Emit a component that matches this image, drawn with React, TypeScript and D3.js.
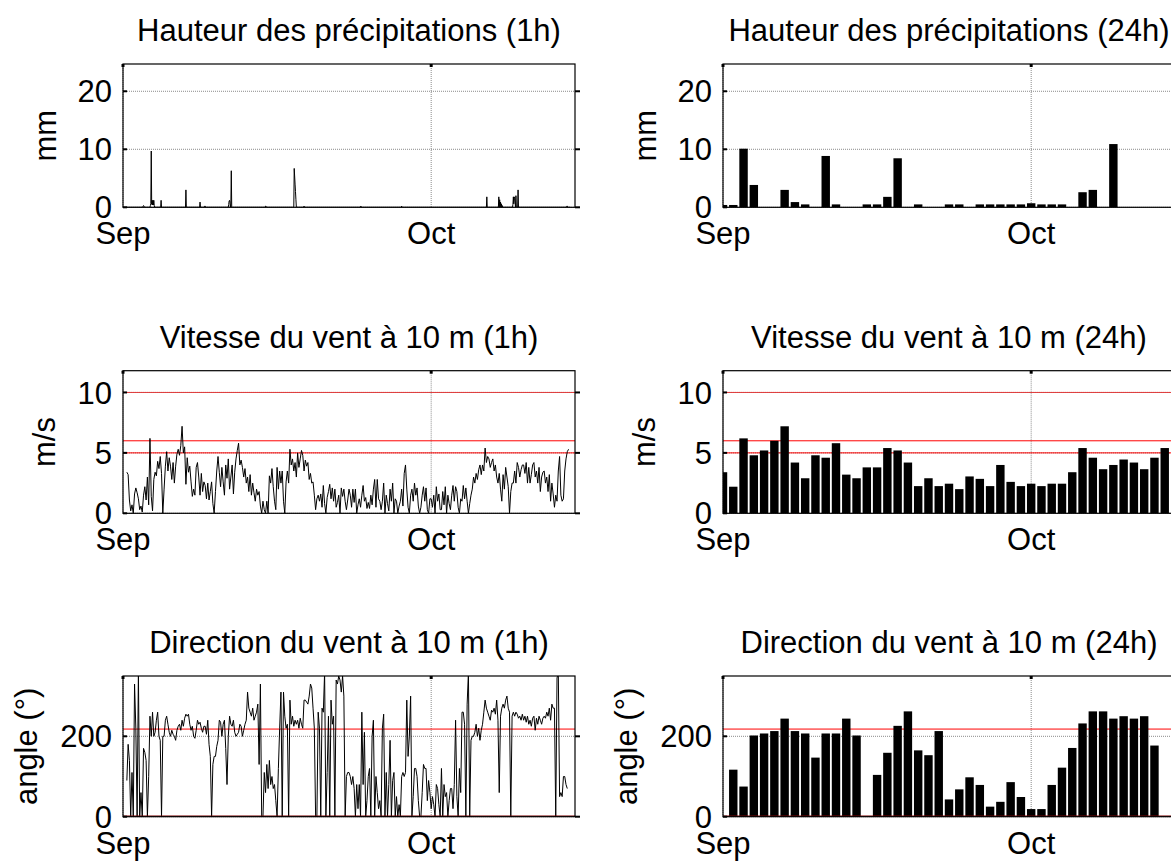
import React from "react";
import * as d3 from "d3";

const FONT = "'Liberation Sans', Arial, Helvetica, sans-serif";
const FONT_SIZE = 31;

// Time frame shown on every panel: 1 Sep – 15 Oct
const START = Date.UTC(2014, 8, 1);
const END = Date.UTC(2014, 9, 15);
const HOUR = 3600000;
const DAY = 24 * HOUR;

const monthTicks = [Date.UTC(2014, 8, 1), Date.UTC(2014, 9, 1)];
const monthLabels = ["Sep", "Oct"];

// Hourly rainfall: hours counted from 1 Sep 00:00 that had rain, and amounts (mm)
const rainHours = [
  47, 48, 49, 64, 65, 66, 67, 68, 69, 70, 71, 72, 73, 89, 147, 180, 191, 192,
  247, 248, 249, 250, 252, 253, 333, 334, 400, 401, 402, 403, 404, 423, 555, 556,
  651, 850, 878, 880, 882, 884, 886, 911, 912, 913, 914, 915, 916, 918, 923,
  1037, 1038,
];
const rainMm = [
  0.2, 0.3, 0.2, 0.3, 0.6, 9.7, 0.5, 1.2, 0.4, 1.2, 0.4, 1.2, 0.3, 1.2, 3.0, 0.9, 0.2, 0.2,
  0.5, 1.1, 1.2, 0.8, 0.6, 6.3, 0.2, 0.2, 6.7, 5.4, 4.0, 2.7, 1.3, 0.2, 0.15, 0.2,
  0.2, 1.8, 1.8, 1.3, 0.9, 0.6, 0.3, 0.5, 1.8, 0.6, 1.8, 1.5, 0.9, 2.0, 3.0,
  0.2, 0.2,
];
const rainFirstHour = 8;
const rainLastHour = 1045;

// Daily rainfall (mm), one value per day from 1 Sep
const rainDaily = [
  0.4, 0.4, 10.1, 3.85, 0, 0, 3.0, 0.9, 0.5, 0, 8.85, 0.5, 0, 0, 0.5, 0.5, 1.8, 8.45, 0, 0.5,
  0, 0, 0.5, 0.5, 0, 0.5, 0.5, 0.5, 0.5, 0.5, 0.7, 0.5, 0.5, 0.5, 0, 2.6, 3.0, 0, 10.9, 0,
  0, 0, 0, 0,
];

// 3-hourly wind speed at 10 m (m/s): 00h, 03h ... 21h for each day from 1 Sep
const windSpeed3h: (number | null)[] = [
  null, null, null, 3.4, 3.2, 1.1, 0.2, 0.7,
  0, 1.6, 2.1, 1.7, 1.2, 0.3, 0.6, 0.1,
  1.5, 2.2, 1.1, 3.0, 0.7, 6.2, 1.4, 0.2,
  2.8, 3.4, 3.1, 4.3, 3.7, 4.7, 3.3, 0,
  2.0, 3.9, 5.1, 3.5, 4.6, 3.9, 2.8, 4.2,
  2.5, 3.9, 4.9, 5.3, 4.8, 5.6, 7.2, 5.0,
  5.5, 2.4, 4.6, 3.4, 3.9, 2.6, 1.4, 2.0,
  1.5, 3.8, 4.2, 3.0, 1.5, 3.3, 1.8, 2.6,
  2.3, 1.2, 2.5, 1.1, 1.8, 2.6, 0.8, 0,
  1.8, 3.5, 4.7, 3.4, 2.2, 3.8, 2.6, 1.5,
  4.0, 2.9, 4.5, 2.0, 3.0, 4.0, 1.6, 3.4,
  4.5, 5.2, 5.8, 4.0, 4.4, 3.8, 3.0, 3.7,
  2.5, 3.0, 1.8, 3.2, 1.5, 2.5, 1.7, 1.0,
  2.0, 1.5, 1.8, 0.6, 0, 1.0, 0.3, 0,
  1.0, 0, 3.1, 2.5, 3.7, 2.2, 1.0, 0.3,
  3.8, 2.0, 3.5, 2.5, 3.5, 1.0, 0, 2.6,
  3.5, 2.5, 5.3, 4.0, 4.5, 3.5, 4.2, 3.0,
  5.0, 3.8, 4.5, 5.2, 4.8, 3.5, 4.4, 3.9,
  4.2, 2.8, 3.3, 2.5, 2.6, 1.5, 0.3, 1.2,
  1.5, 1.0, 1.6, 0.5, 2.3, 0.8, 0, 1.3,
  1.8, 2.4, 1.2, 2.1, 1.0, 2.0, 0.5, 0.9,
  1.5, 0, 2.1, 1.4, 2.0, 1.0, 0.3, 1.1,
  2.0, 1.5, 0.5, 2.0, 0.9, 2.0, 0, 0.7,
  1.2, 0.5, 1.5, 2.3, 1.0, 1.3, 0.4, 0.9,
  0.4, 1.5, 0.7, 2.0, 2.8, 0.5, 2.8, 1.2,
  1.0, 0.3, 1.0, 2.5, 0, 1.5, 0.8, 0.2,
  2.0, 1.0, 2.5, 0, 1.2, 1.0, 0, 0.6,
  1.0, 2.0, 0.6, 3.3, 4.0, 2.0, 0.5, 0,
  1.5, 2.0, 1.0, 2.5, 1.5, 2.1, 0.6, 0,
  0.5, 1.5, 2.2, 1.0, 2.1, 0.3, 0, 1.2,
  1.2, 0.5, 1.5, 0, 2.2, 1.0, 1.6, 0.3,
  0.3, 1.8, 0.7, 2.2, 0, 1.5, 0.8, 0.3,
  1.5, 2.3, 1.0, 2.2, 1.8, 0.5, 0, 1.2,
  1.0, 2.3, 1.2, 2.1, 1.0, 0, 0.8, 1.5,
  2.0, 3.0, 2.5, 3.3, 2.8, 3.6, 4.0, 3.2,
  4.0, 3.5, 5.4, 4.2, 4.7, 4.5, 3.8, 4.2,
  4.5, 3.5, 4.0, 3.0, 2.5, 3.3, 2.0, 1.0,
  3.2, 2.0, 3.8, 3.0, 2.2, 0, 1.8, 2.5,
  2.5, 3.5, 2.5, 4.2, 3.8, 3.0, 3.6, 4.0,
  4.0, 3.3, 4.2, 2.5, 3.8, 2.5, 3.2, 4.0,
  4.2, 3.0, 3.5, 2.5, 3.8, 1.8, 3.0, 3.4,
  3.5, 2.5, 3.0, 1.8, 3.2, 1.0, 2.5, 1.6,
  0.5, 1.5, 1.0, 3.5, 4.7, 1.5, 1.0, 1.2,
  3.5, 4.5, 5.1, 5.3, null, null, null, null,
];

// Daily wind speed at 10 m (m/s)
const windSpeedDaily = [
  3.4, 2.2, 6.2, 4.8, 5.2, 6.0, 7.2, 4.2, 2.9, 4.8, 4.6, 5.8, 3.2, 2.9, 3.8, 3.8, 5.4, 5.2,
  4.2, 2.25, 2.9, 2.25, 2.45, 2.0, 3.05, 2.85, 2.25, 4.0, 2.6, 2.25, 2.45, 2.25, 2.45, 2.45,
  3.4, 5.4, 4.6, 3.65, 4.0, 4.45, 4.2, 3.65, 4.6, 5.4,
];

// 3-hourly wind direction at 10 m (degrees)
const windDir3h: (number | null)[] = [
  null, null, null, 90, 180, 140, 0, 110,
  0, 330, 220, 0, 359, 0, 60, 0,
  170, 160, 140, 0, 100, 250, 200, 260,
  200, 210, 240, 260, 200, 190, 0, 200,
  200, 240, 250, 230, 210, 200, 215, 205,
  200, 190, 215, 225, 230, 215, 240, 225,
  245, 255, 250, 255, 230, 215, 225, 200,
  195, 215, 240, 230, 235, 220, 210, 225,
  225, 205, 240, 180, 150, 0, 130, 150,
  150, 175, 190, 240, 235, 200, 230, 240,
  170, 80, 200, 250, 230, 225, 240, 210,
  200, 205, 210, 230, 225, 200, 215, 230,
  240, 310, 270, 260, 250, 270, 240, 250,
  260, 280, 130, 330, 0, 0, 110, 60,
  130, 70, 140, 80, 100, 70, 80, 40,
  0, 120, 220, 310, 0, 310, 250, 220,
  230, 0, 290, 230, 250, 225, 240, 230,
  240, 220, 245, 230, 220, 290, 290, 285,
  280, 300, 330, 320, 270, 220, 0, 0,
  260, 220, 0, 270, 260, 359, 0, 110,
  250, 0, 290, 230, 250, 0, 340, 330,
  350, 340, 310, 350, 300, 0, 100, 110,
  110, 100, 80, 100, 70, 0, 80, 20,
  80, 0, 260, 80, 210, 0, 40, 100,
  120, 0, 200, 240, 0, 100, 60, 20,
  40, 0, 220, 255, 0, 110, 0, 80,
  190, 0, 90, 110, 0, 50, 0, 30,
  0, 100, 110, 100, 110, 290, 150, 200,
  300, 0, 50, 120, 120, 100, 40, 0,
  0, 60, 130, 120, 120, 40, 90, 60,
  20, 50, 30, 0, 80, 70, 30, 0,
  120, 0, 80, 50, 60, 0, 40, 70,
  70, 20, 80, 240, 50, 0, 120, 60,
  260, 260, 230, 0, 280, 359, 0, 190,
  200, 200, 210, 230, 200, 220, 190, 215,
  230, 260, 290, 270, 260, 250, 240, 265,
  260, 270, 255, 290, 240, 60, 250, 270,
  280, 270, 290, 300, 270, 260, 0, 250,
  260, 250, 260, 255, 245, 250, 240, 255,
  240, 250, 235, 250, 230, 240, 225, 245,
  250, 215, 245, 230, 250, 240, 230, 245,
  250, 245, 260, 250, 270, 240, 280, 270,
  270, 0, 345, 359, 50, 60, 50, 100,
  100, 80, 70, null, null, null, null, null,
];

// Daily wind direction at 10 m (degrees)
const windDirDaily: (number | null)[] = [
  null, 117, 75, 202, 207, 213, 244, 213, 207, 147, 207, 207, 244, 202, null, 104, 159, 226,
  262, 165, 153, 213, 43, 68, 98, 79, 25, 37, 86, 49, 19, 19, 79, 122, 171, 232, 262, 262,
  244, 250, 244, 250, 177, null,
];

// Reference levels
const speedLevels = [5, 6, 10];
const directionLevel = 218;

type Pt = { t: number; v: number | null };

function hourlyRain(): Pt[] {
  const byHour = new Map<number, number>();
  rainHours.forEach((h, i) => byHour.set(h, rainMm[i]));
  const out: Pt[] = [];
  for (let h = rainFirstHour; h <= rainLastHour; h++) {
    out.push({ t: START + h * HOUR, v: byHour.get(h) ?? 0 });
  }
  return out;
}

function threeHourly(vals: (number | null)[]): Pt[] {
  return vals.map((v, i) => ({ t: START + i * 3 * HOUR, v }));
}

const PLOT_W = 452;

interface PanelSpec {
  id: string;
  left: number;
  top: number;
  bottom: number;
  yMax: number;
  ticks: number[];
  title: string;
  yLabel: string;
  yLabelX: number;
  line?: Pt[];
  bars?: (number | null)[];
  speedLines?: boolean;
  directionLines?: boolean;
}

function Panel({ s }: { s: PanelSpec }) {
  const x = d3.scaleUtc().domain([START, END]).range([s.left, s.left + PLOT_W]);
  const y = d3.scaleLinear().domain([0, s.yMax]).range([s.bottom, s.top]);
  const right = s.left + PLOT_W;
  const cx = s.left + PLOT_W / 2;
  const cy = (s.top + s.bottom) / 2;
  const line = d3
    .line<Pt>()
    .defined((d) => d.v != null)
    .x((d) => x(d.t))
    .y((d) => y(d.v as number));
  const bw = x(START + 0.82 * DAY) - x(START);

  return (
    <g>
      <defs>
        <clipPath id={s.id}>
          <rect x={s.left} y={s.top} width={PLOT_W} height={s.bottom - s.top} />
        </clipPath>
      </defs>
      <text x={cx} y={s.top - 23} textAnchor="middle">
        {s.title}
      </text>
      <text
        transform={`translate(${s.yLabelX},${cy}) rotate(-90)`}
        textAnchor="middle"
      >
        {s.yLabel}
      </text>

      {/* grid */}
      <g stroke="#8a8a8a" strokeWidth={1} strokeDasharray="1 1" fill="none">
        {s.ticks.map((t) => (
          <line key={`gy${t}`} x1={s.left} x2={right} y1={y(t)} y2={y(t)} />
        ))}
        {monthTicks.map((t) => (
          <line key={`gx${t}`} x1={x(t)} x2={x(t)} y1={s.top} y2={s.bottom} />
        ))}
      </g>

      <g clipPath={`url(#${s.id})`}>
        {s.speedLines &&
          speedLevels.map((v) => (
            <line
              key={`r${v}`}
              x1={s.left}
              x2={right}
              y1={y(v)}
              y2={y(v)}
              stroke={v === 10 ? "#e03a3a" : "#ff0000"}
              strokeWidth={1}
            />
          ))}
        {s.directionLines && (
          <line
            x1={s.left}
            x2={right}
            y1={y(directionLevel)}
            y2={y(directionLevel)}
            stroke="#ff0000"
            strokeWidth={1}
          />
        )}
        {s.bars &&
          s.bars.map((v, i) =>
            v == null || v <= 0 ? null : (
              <rect
                key={i}
                x={x(START + i * DAY) - bw / 2}
                y={y(v)}
                width={bw}
                height={y(0) - y(v)}
                fill="#000"
              />
            )
          )}
        {s.line && (
          <path d={line(s.line) ?? ""} fill="none" stroke="#000" strokeWidth={1} />
        )}
        {s.directionLines && (
          <line x1={s.left} x2={right} y1={y(0)} y2={y(0)} stroke="#7a0000" strokeWidth={2.2} />
        )}
      </g>

      {/* axes box */}
      <rect
        x={s.left}
        y={s.top}
        width={PLOT_W}
        height={s.bottom - s.top}
        fill="none"
        stroke="#000"
        strokeWidth={1.2}
      />
      <g stroke="#000">
        {s.ticks.map((t) => (
          <g key={`ty${t}`}>
            <line x1={s.left} x2={s.left + 4} y1={y(t)} y2={y(t)} strokeWidth={2} />
            <line x1={right} x2={right + 5} y1={y(t)} y2={y(t)} strokeWidth={2} />
          </g>
        ))}
        {monthTicks.map((t) => (
          <line key={`tx${t}`} x1={x(t)} x2={x(t)} y1={s.top} y2={s.top + 3} strokeWidth={3} />
        ))}
      </g>

      {s.ticks.map((t) => (
        <text key={`ly${t}`} x={s.left - 11} y={y(t)} dy="0.36em" textAnchor="end">
          {t}
        </text>
      ))}
      {monthTicks.map((t, i) => (
        <text key={`lx${t}`} x={x(t)} y={s.bottom + 37} textAnchor="middle">
          {monthLabels[i]}
        </text>
      ))}
    </g>
  );
}

export default function App() {
  const leftCol = 123;
  const rightCol = 723;
  const rain1h = hourlyRain();
  const speed1h = threeHourly(windSpeed3h);
  const dir1h = threeHourly(windDir3h);

  const rows = [
    { top: 64, bottom: 207.3, yMax: 24.7, ticks: [0, 10, 20], unit: "mm", lx: [56, 656] },
    { top: 370.7, bottom: 513.3, yMax: 11.8, ticks: [0, 5, 10], unit: "m/s", lx: [55, 655] },
    { top: 676, bottom: 816.7, yMax: 350, ticks: [0, 200], unit: "angle (°)", lx: [37, 637] },
  ];

  const panels: PanelSpec[] = [
    { id: "p1", left: leftCol, ...rows[0], title: "Hauteur des précipitations (1h)", yLabel: rows[0].unit, yLabelX: rows[0].lx[0], line: rain1h },
    { id: "p2", left: rightCol, ...rows[0], title: "Hauteur des précipitations (24h)", yLabel: rows[0].unit, yLabelX: rows[0].lx[1], bars: rainDaily },
    { id: "p3", left: leftCol, ...rows[1], title: "Vitesse du vent à 10 m (1h)", yLabel: rows[1].unit, yLabelX: rows[1].lx[0], line: speed1h, speedLines: true },
    { id: "p4", left: rightCol, ...rows[1], title: "Vitesse du vent à 10 m (24h)", yLabel: rows[1].unit, yLabelX: rows[1].lx[1], bars: windSpeedDaily, speedLines: true },
    { id: "p5", left: leftCol, ...rows[2], title: "Direction du vent à 10 m (1h)", yLabel: rows[2].unit, yLabelX: rows[2].lx[0], line: dir1h, directionLines: true },
    { id: "p6", left: rightCol, ...rows[2], title: "Direction du vent à 10 m (24h)", yLabel: rows[2].unit, yLabelX: rows[2].lx[1], bars: windDirDaily, directionLines: true },
  ];

  return (
    <svg
      width={1171}
      height={861}
      style={{ position: "absolute", left: 0, top: 0, background: "#fff" }}
      fontFamily={FONT}
      fontSize={FONT_SIZE}
      fill="#000"
    >
      <rect width={1171} height={861} fill="#fff" />
      {panels.map((p) => (
        <Panel key={p.id} s={p} />
      ))}
    </svg>
  );
}
